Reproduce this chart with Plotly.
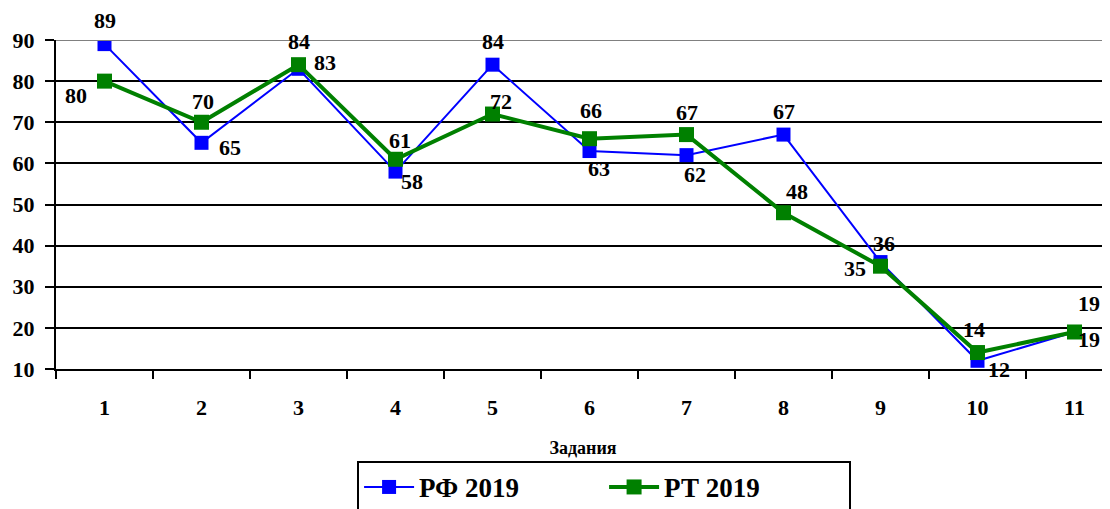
import plotly.graph_objects as go

# задания 1..11
tasks = [1, 2, 3, 4, 5, 6, 7, 8, 9, 10, 11]
rf_2019 = [89, 65, 83, 58, 84, 63, 62, 67, 36, 12, 19]
rt_2019 = [80, 70, 84, 61, 72, 66, 67, 48, 35, 14, 19]
y_ticks = [10, 20, 30, 40, 50, 60, 70, 80, 90]

# смещения подписей (px) относительно маркеров
rf_dx = [0, 28, 26, 16, 0, 9, 8, 0, 3, 21, 14]
rf_dy = [24, -5, 6, -10, 23, -17, -19, 23, 19, -9, -8]
rt_dx = [-29, 1, 0, 4, 8, 1, 0, 13, -26, -4, 14]
rt_dy = [-14, 21, 23, 19, 13, 28, 22, 21, -2, 23, 28]

serif = "Liberation Serif, Times New Roman, serif"

fig = go.Figure()
fig.add_trace(go.Scatter(x=tasks, y=rf_2019, name="<b>РФ 2019</b>", mode="lines+markers",
                         line=dict(color="#0000FF", width=2),
                         marker=dict(symbol="square", size=14, color="#0000FF")))
fig.add_trace(go.Scatter(x=tasks, y=rt_2019, name="<b>РТ 2019</b>", mode="lines+markers",
                         line=dict(color="#008000", width=4),
                         marker=dict(symbol="square", size=15, color="#008000")))

for xs, ys, dxs, dys in [(tasks, rf_2019, rf_dx, rf_dy), (tasks, rt_2019, rt_dx, rt_dy)]:
    for x, y, dx, dy in zip(xs, ys, dxs, dys):
        fig.add_annotation(x=x, y=y, text="<b>%d</b>" % y, showarrow=False,
                           xshift=dx, yshift=dy,
                           font=dict(family=serif, size=22, color="black"))

# верхняя серая линия
fig.add_shape(type="line", xref="paper", yref="y", x0=0, x1=1, y0=90, y1=90,
              line=dict(color="#808080", width=2))

fig.update_layout(
    width=1102, height=501,
    margin=dict(l=48, r=0, t=32, b=140, autoexpand=False),
    paper_bgcolor="white", plot_bgcolor="white",
    font=dict(family=serif, color="black"),
    showlegend=True,
    legend=dict(orientation="h", x=0.52, xanchor="center",
                yref="container", y=0.096, yanchor="top",
                bordercolor="black", borderwidth=2, entrywidth=180,
                font=dict(size=27, family=serif), itemwidth=50),
)
fig.update_xaxes(range=[0.5, 11.366], tickvals=tasks, ticktext=["<b>%d</b>" % t for t in tasks],
                 ticks="", ticklabelstandoff=18, showgrid=False, zeroline=False, automargin=False,
                 showline=True, linecolor="black", linewidth=2,
                 tickfont=dict(size=22, family=serif),
                 minor=dict(tickvals=[t - 0.5 for t in tasks] + [11.5], ticks="outside",
                            ticklen=8, tickwidth=2, tickcolor="black", showgrid=False),
                 title=dict(text="<b>Задания</b>", font=dict(size=18, family=serif),
                            standoff=22))
fig.update_yaxes(range=[10, 90], tickvals=y_ticks, ticktext=["<b>%d</b>" % v for v in y_ticks],
                 ticks="outside", ticklen=9, tickwidth=2, tickcolor="black", automargin=False,
                 ticklabelstandoff=6, showgrid=True, gridcolor="black", gridwidth=2,
                 zeroline=False, showline=True, linecolor="black", linewidth=2,
                 tickfont=dict(size=22, family=serif))

fig.write_html("out.html")
